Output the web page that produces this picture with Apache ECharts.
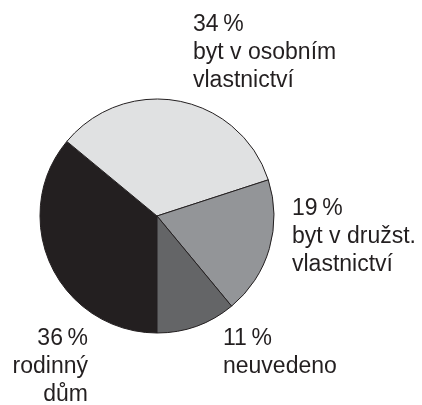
<!DOCTYPE html>
<html>
<head>
<meta charset="utf-8">
<script src="https://cdn.jsdelivr.net/npm/echarts@6/dist/echarts.min.js"></script>
<style>
  html, body { margin: 0; padding: 0; background: #fff; }
  #chart { width: 422px; height: 405px; }
</style>
</head>
<body>
<div id="chart"></div>
<script>
// data
var names = ["rodinný\ndům", "byt v osobním\nvlastnictví", "byt v družst.\nvlastnictví", "neuvedeno"];
var values = [36, 34, 19, 11];
var colors = ["#231f20", "#e0e1e2", "#939598", "#646567"];

// label placement (left/top of the text block, right edge for the first)
var labelPos = [
    { x: 88, y: 325, align: "right" },
    { x: 193, y: 10.5, align: "left" },
    { x: 292, y: 195, align: "left" },
    { x: 223, y: 325, align: "left" }
];

var myChart = echarts.init(document.getElementById("chart"));
myChart.setOption({
    animation: false,
    series: [
        {
            type: "pie",
            center: [157, 216],
            radius: [0, 117],
            startAngle: -90,
            clockwise: true,
            avoidLabelOverlap: false,
            data: names.map(function (n, i) {
                return { name: n, value: values[i], itemStyle: { color: colors[i] } };
            }),
            itemStyle: {
                borderColor: "#231f20",
                borderWidth: 1
            },
            label: {
                show: true,
                position: "outside",
                formatter: "{c}\u202F%\n{b}",
                fontFamily: "Liberation Sans, Arial, sans-serif",
                fontSize: 23,
                lineHeight: 28,
                color: "#231f20",
                overflow: "none",
                width: 200
            },
            labelLine: { show: false },
            labelLayout: function (params) {
                var p = labelPos[params.dataIndex];
                return { x: p.x, y: p.y, align: p.align, verticalAlign: "top", hideOverlap: false };
            },
            emphasis: { disabled: true }
        }
    ]
});
</script>
</body>
</html>
